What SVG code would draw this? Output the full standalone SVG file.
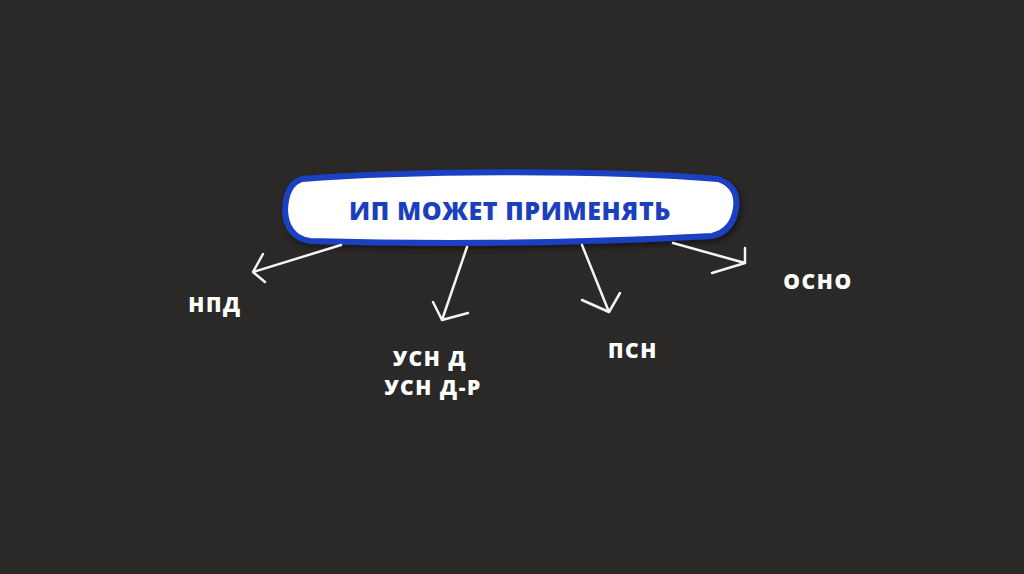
<svg xmlns="http://www.w3.org/2000/svg" width="1024" height="574" viewBox="0 0 1024 574">
<defs>
<style>
.lbl{font-family:"Open Sans","Noto Sans","Liberation Sans",sans-serif;font-weight:800;font-size:21px;letter-spacing:1.6px;fill:#ffffff;text-anchor:middle}
.ttl{font-family:"Open Sans","Noto Sans","Liberation Sans",sans-serif;font-weight:800;font-size:25px;letter-spacing:0.6px;fill:#1c40bd;text-anchor:middle}
.arr{fill:none;stroke:#f4f4f4;stroke-width:2.5;stroke-linecap:round;stroke-linejoin:round}
</style>
<filter id="sh" x="-10%" y="-30%" width="120%" height="160%"><feDropShadow dx="2" dy="3" stdDeviation="3" flood-color="#000" flood-opacity="0.5"/></filter>
</defs>
<rect width="1024" height="574" fill="#2a2927"/>
<g id="main">
<path d="M302,179 C400,171 600,169 718,179 Q739,186 736,208 Q733,231 712,236 C600,242 450,245 310,241 Q286,237 285,210 Q286,184 302,179 Z" fill="#ffffff" stroke="#1b40c2" stroke-width="6" filter="url(#sh)"/>
<text class="ttl" x="510" y="220">ИП МОЖЕТ ПРИМЕНЯТЬ</text>
</g>
<g id="connectors">
<path class="arr" d="M341,245 L253,272 M263,254 L253,272 L265,282"/>
<path class="arr" d="M467,247 L442,320 M433,302 L442,320 L468,313"/>
<path class="arr" d="M582,245 L609,312 M582,300 L609,312 L620,293"/>
<path class="arr" d="M673,243 L745,263 M745,248 L745,263 L712,273"/>
</g>
<g id="npd"><text class="lbl" x="215" y="312">НПД</text></g>
<g id="usn"><text class="lbl" x="430" y="366">УСН Д</text><text class="lbl" x="433" y="395">УСН Д-Р</text></g>
<g id="psn"><text class="lbl" x="633" y="358">ПСН</text></g>
<g id="osno"><text class="lbl" x="818" y="289">ОСНО</text></g>
</svg>
